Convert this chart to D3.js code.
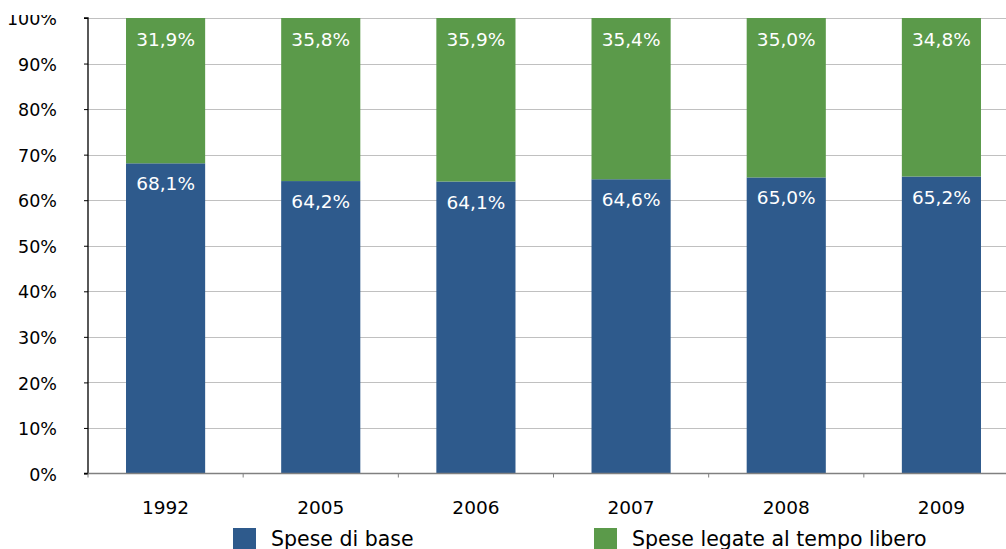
<!DOCTYPE html>
<html>
<head>
<meta charset="utf-8">
<script src="https://cdn.jsdelivr.net/npm/d3@7"></script>
<style>
  body { margin: 0; background: #fff; overflow: hidden; }
  svg { display: block; font-family: "DejaVu Sans", sans-serif; }
</style>
</head>
<body>
<svg id="chart" width="1006" height="549"></svg>
<script>
const years = ['1992', '2005', '2006', '2007', '2008', '2009'];
const speseBase = [68.1, 64.2, 64.1, 64.6, 65.0, 65.2];
const speseTempoLibero = [31.9, 35.8, 35.9, 35.4, 35.0, 34.8];
const seriesNames = ['Spese di base', 'Spese legate al tempo libero'];
const yTicks = [0, 10, 20, 30, 40, 50, 60, 70, 80, 90, 100];

const colors = { base: '#2E5A8C', libero: '#5B9A4A' };
const fmt = v => v.toFixed(1).replace('.', ',') + '%';

const svg = d3.select('#chart');
const plotLeft = 88, plotRight = 1019, plotTop = 18, plotBottom = 473.5;

const x = d3.scaleBand()
  .domain(years)
  .range([plotLeft, plotRight])
  .paddingInner(0.49)
  .paddingOuter(0.245);

const y = d3.scaleLinear()
  .domain([0, 100])
  .range([plotBottom, plotTop]);

// gridlines
svg.append('g')
  .selectAll('line')
  .data(yTicks.filter(d => d > 0))
  .enter().append('line')
  .attr('x1', plotLeft).attr('x2', 1006)
  .attr('y1', d => Math.round(y(d)) + 0.5)
  .attr('y2', d => Math.round(y(d)) + 0.5)
  .attr('stroke', '#c0c0c0')
  .attr('stroke-width', 1.2);

// stacked bars
const rows = years.map((yr, i) => ({ year: yr, base: speseBase[i], libero: speseTempoLibero[i] }));

const bars = svg.append('g');
bars.selectAll('.base')
  .data(rows)
  .enter().append('rect')
  .attr('x', d => x(d.year))
  .attr('width', x.bandwidth())
  .attr('y', d => y(d.base))
  .attr('height', d => y(0) - y(d.base))
  .attr('fill', colors.base);

bars.selectAll('.libero')
  .data(rows)
  .enter().append('rect')
  .attr('x', d => x(d.year))
  .attr('width', x.bandwidth())
  .attr('y', d => y(100))
  .attr('height', d => y(d.base) - y(100))
  .attr('fill', colors.libero);

// labels in bars
const labels = svg.append('g')
  .attr('fill', '#fff')
  .attr('font-size', '18.5px')
  .attr('text-anchor', 'middle');

labels.selectAll('.lb')
  .data(rows)
  .enter().append('text')
  .attr('x', d => x(d.year) + x.bandwidth() / 2)
  .attr('y', d => y(d.base) + 27)
  .text(d => fmt(d.base));

labels.selectAll('.ll')
  .data(rows)
  .enter().append('text')
  .attr('x', d => x(d.year) + x.bandwidth() / 2)
  .attr('y', d => y(100) + 28)
  .text(d => fmt(d.libero));

// y axis (text clipped at the top like the source)
svg.append('defs').append('clipPath')
  .attr('id', 'clipTop')
  .append('rect')
  .attr('x', -200).attr('y', 15).attr('width', 400).attr('height', 540);

const yAxis = svg.append('g')
  .attr('transform', `translate(${plotLeft},0)`)
  .attr('clip-path', 'url(#clipTop)')
  .call(d3.axisLeft(y).tickValues(yTicks).tickSize(4).tickPadding(27).tickFormat(d => d + '%'));
yAxis.select('.domain').attr('stroke', '#000').attr('stroke-width', 1.3)
  .attr('d', `M-4,${plotTop}H0V${plotBottom}H-4`);
yAxis.selectAll('.tick line').attr('stroke', '#000');
yAxis.selectAll('.tick text')
  .attr('font-size', '17.5px')
  .attr('fill', '#000')
  .attr('font-family', '"DejaVu Sans", sans-serif')
  .attr('dy', '0.38em');

// x axis
const xAxis = svg.append('g').attr('transform', `translate(0,${plotBottom})`);
xAxis.append('line')
  .attr('x1', plotLeft).attr('x2', 1006)
  .attr('y1', 0).attr('y2', 0)
  .attr('stroke', '#808080')
  .attr('stroke-width', 1.5);
xAxis.selectAll('.tk')
  .data(d3.range(years.length + 1))
  .enter().append('line')
  .attr('x1', i => plotLeft + i * x.step())
  .attr('x2', i => plotLeft + i * x.step())
  .attr('y1', 0).attr('y2', 4)
  .attr('stroke', '#808080');
xAxis.selectAll('text')
  .data(years)
  .enter().append('text')
  .attr('x', d => x(d) + x.bandwidth() / 2)
  .attr('y', 40)
  .attr('text-anchor', 'middle')
  .attr('font-size', '18.5px')
  .attr('fill', '#000')
  .text(d => d);

// legend
const legendItems = [
  { name: seriesNames[0], color: colors.base, x: 233 },
  { name: seriesNames[1], color: colors.libero, x: 594 }
];
const legend = svg.append('g');
const lg = legend.selectAll('g')
  .data(legendItems)
  .enter().append('g')
  .attr('transform', d => `translate(${d.x},528)`);
lg.append('rect')
  .attr('width', 23).attr('height', 23)
  .attr('fill', d => d.color);
lg.append('text')
  .attr('x', 38)
  .attr('y', 18)
  .attr('font-size', '20.5px')
  .attr('fill', '#000')
  .text(d => d.name);
</script>
</body>
</html>
